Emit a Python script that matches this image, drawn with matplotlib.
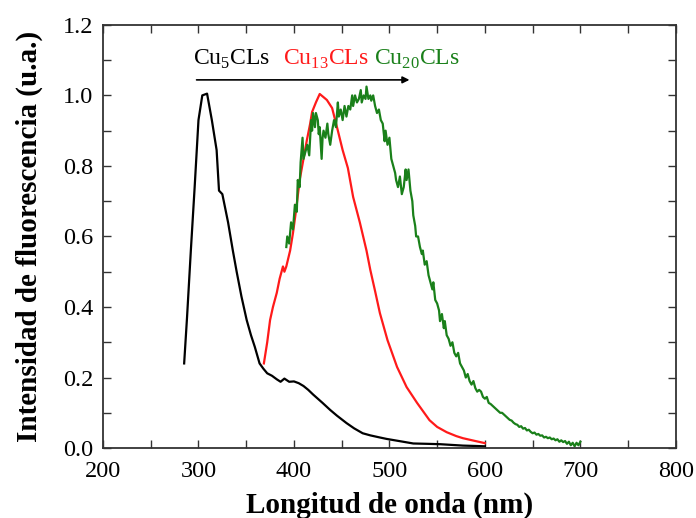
import matplotlib
matplotlib.use("Agg")
import matplotlib.pyplot as plt
from matplotlib.ticker import MultipleLocator, FormatStrFormatter

plt.rcParams['font.family'] = ['Liberation Serif', 'DejaVu Serif']
plt.rcParams['mathtext.fontset'] = 'custom'
plt.rcParams['mathtext.rm'] = 'Liberation Serif'

# Cu5 CLs (black)
cu5_x = [285, 288, 292, 296, 300, 304, 309, 314, 319, 321.5, 325, 328, 331, 336, 340,
         345, 350.5, 355, 359, 364, 368, 372, 377, 382, 386, 390, 395, 400, 405, 410,
         415, 420, 425, 430, 438, 445, 455, 463, 472, 480, 490, 497, 510, 525, 540,
         553, 565, 577, 590, 600]
cu5_y = [0.24, 0.37, 0.56, 0.74, 0.93, 1.00, 1.005, 0.93, 0.845, 0.73, 0.72, 0.68, 0.64,
         0.56, 0.50, 0.43, 0.363, 0.32, 0.287, 0.24, 0.225, 0.212, 0.205, 0.195, 0.188,
         0.197, 0.188, 0.189, 0.184, 0.176, 0.165, 0.152, 0.140, 0.128, 0.108, 0.092,
         0.071, 0.056, 0.042, 0.036, 0.030, 0.026, 0.020, 0.013, 0.012, 0.011, 0.009,
         0.007, 0.006, 0.005]

# Cu13 CLs (red)
cu13_x = [368.5, 372, 375, 378, 382, 385, 388.5, 390, 392, 396, 399, 402, 406, 410,
          413.6, 417, 419, 423, 427, 431, 434.5, 440, 446, 451, 456.5, 462, 469, 476,
          480, 485, 490, 498, 508, 518, 529, 542, 550, 560, 570, 577, 590, 600]
cu13_y = [0.24, 0.30, 0.363, 0.40, 0.44, 0.48, 0.515, 0.50, 0.515, 0.56, 0.61, 0.67,
          0.76, 0.82, 0.874, 0.92, 0.953, 0.98, 1.004, 0.995, 0.987, 0.964, 0.90, 0.845,
          0.794, 0.712, 0.64, 0.56, 0.505, 0.445, 0.383, 0.306, 0.23, 0.173, 0.128,
          0.079, 0.060, 0.045, 0.034, 0.028, 0.020, 0.014]

# Cu20 CLs (green)
cu20_x = [392, 393, 395, 397, 399, 401, 403, 404, 406, 407,
          409, 410, 412, 414, 416, 418, 419, 420, 422, 423,
          425, 426, 427, 429, 430, 431, 433, 435, 436, 438,
          440, 442, 444, 446, 447, 449, 451, 453, 455, 457,
          459, 461, 462, 464, 466, 468, 470, 471, 473, 475,
          476, 478, 480, 481, 483, 485, 487, 489, 491, 493,
          495, 496, 498, 500, 502, 504, 506, 507, 509, 511,
          513, 515, 517, 518, 520, 522, 524, 525, 527, 528,
          530, 532, 534, 535, 537, 539, 541, 543, 545, 546,
          548, 550, 552, 553, 555, 557, 558, 560, 562, 564,
          566, 568, 570, 572, 574, 576, 578, 580, 582, 584,
          586, 588, 590, 592, 594, 596, 598, 600, 602, 604,
          606, 608, 610, 612, 614, 616, 618, 620, 622, 624,
          626, 628, 630, 632, 634, 636, 638, 640, 642, 644,
          646, 648, 650, 652, 654, 656, 658, 660, 662, 664,
          666, 668, 670, 672, 674, 676, 678, 680, 682, 684,
          686, 688, 690, 692, 694, 696, 698, 700]
cu20_y = [0.57, 0.60, 0.58, 0.64, 0.62, 0.69, 0.67, 0.76, 0.74, 0.81,
          0.88, 0.82, 0.84, 0.86, 0.83, 0.93, 0.90, 0.95, 0.91, 0.95,
          0.93, 0.89, 0.91, 0.82, 0.88, 0.90, 0.88, 0.92, 0.89, 0.86,
          0.90, 0.93, 0.91, 0.98, 0.94, 0.96, 0.93, 0.97, 0.94, 0.97,
          0.96, 1.00, 0.97, 1.00, 0.98, 0.99, 1.015, 0.98, 1.00, 0.99,
          1.025, 0.99, 1.00, 0.985, 1.00, 0.97, 0.95, 0.96, 0.93, 0.92,
          0.87, 0.90, 0.86, 0.88, 0.82, 0.80, 0.78, 0.76, 0.74, 0.77,
          0.72, 0.74, 0.79, 0.76, 0.79, 0.73, 0.70, 0.66, 0.63, 0.60,
          0.60, 0.57, 0.55, 0.56, 0.52, 0.53, 0.49, 0.47, 0.45, 0.47,
          0.42, 0.41, 0.39, 0.36, 0.38, 0.34, 0.36, 0.32, 0.31, 0.29,
          0.30, 0.27, 0.26, 0.27, 0.24, 0.23, 0.22, 0.20, 0.21, 0.19,
          0.18, 0.19, 0.17, 0.16, 0.165, 0.16, 0.145, 0.14, 0.145, 0.128,
          0.125, 0.12, 0.115, 0.11, 0.105, 0.10, 0.10, 0.095, 0.09, 0.085,
          0.08, 0.078, 0.072, 0.068, 0.066, 0.06, 0.062, 0.055, 0.057, 0.05,
          0.052, 0.046, 0.042, 0.044, 0.038, 0.04, 0.035, 0.036, 0.03, 0.032,
          0.028, 0.03, 0.025, 0.027, 0.022, 0.025, 0.018, 0.022, 0.017, 0.02,
          0.012, 0.018, 0.008, 0.015, 0.005, 0.015, 0.008, 0.018]

labels = [r'Cu$_{\mathregular{5}}$CLs', r'Cu$_{\mathregular{13}}$CLs', r'Cu$_{\mathregular{20}}$CLs']
colors = ['#000000', '#ff1a1a', '#1a801a']

fig = plt.figure(figsize=(6.96, 5.18), dpi=100)
ax = fig.add_axes([0.148, 0.135, 0.823, 0.817])

ax.plot(cu5_x, cu5_y, color=colors[0], lw=1.6)
ax.plot(cu13_x, cu13_y, color=colors[1], lw=1.6)
ax.plot(cu20_x, cu20_y, color=colors[2], lw=1.6)

ax.set_xlim(200, 800)
ax.set_ylim(0, 1.2)
ax.xaxis.set_major_locator(MultipleLocator(100))
ax.xaxis.set_minor_locator(MultipleLocator(50))
ax.yaxis.set_major_locator(MultipleLocator(0.2))
ax.yaxis.set_minor_locator(MultipleLocator(0.1))
ax.yaxis.set_major_formatter(FormatStrFormatter('%.1f'))
ax.tick_params(which='both', direction='in', top=True, right=True, length=6, width=1,
               color='#333333')
ax.tick_params(axis='x', which='major', labelsize=17.5, pad=9)
ax.tick_params(axis='y', which='major', labelsize=17.5, pad=7)
for s in ax.spines.values():
    s.set_linewidth(1.3)
    s.set_color('#333333')

ax.set_xlabel('Longitud de onda (nm)', fontsize=21, fontweight='bold', labelpad=7)
ax.set_ylabel('Intensidad de fluorescencia (u.a.)', fontsize=21, fontweight='bold', labelpad=14)

# annotations
ax.annotate('', xy=(521, 1.044), xytext=(298, 1.044),
            arrowprops=dict(arrowstyle='-|>', color='black', lw=1.2, mutation_scale=10,
                            shrinkA=0, shrinkB=0))
ax.text(294, 1.086, labels[0], color=colors[0], fontsize=17)
ax.text(388.5, 1.086, labels[1], color=colors[1], fontsize=17)
ax.text(484, 1.086, labels[2], color=colors[2], fontsize=17)

fig.savefig('out.png', dpi=100)
